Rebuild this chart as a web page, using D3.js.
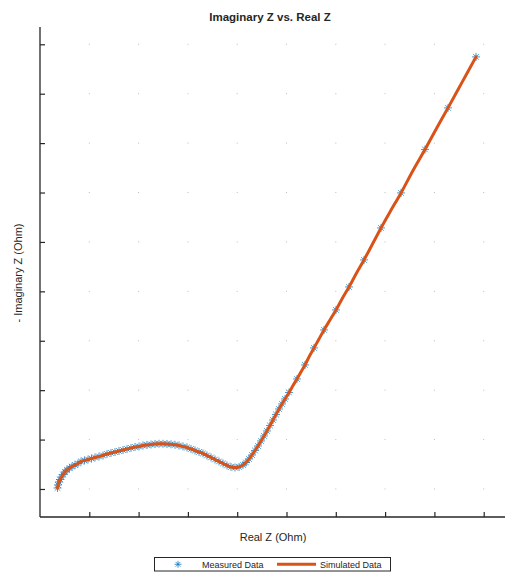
<!DOCTYPE html>
<html><head><meta charset="utf-8">
<script src="https://cdn.jsdelivr.net/npm/d3@7/dist/d3.min.js"></script>
<style>body{margin:0;background:#fff}svg{display:block}</style>
</head><body>
<script>
// Simulated data (Real Z, -Imag Z) in Ohm
const simReal = [3.55,3.65,3.85,4.06,4.36,4.67,5.07,5.48,5.98,6.49,7.10,7.71,8.32,9.03,9.74,10.45,11.16,11.97,12.78,13.59,14.40,15.21,16.02,16.84,17.65,18.46,19.27,20.08,20.89,21.70,22.52,23.33,24.14,24.95,25.76,26.57,27.38,28.19,29.01,29.82,30.63,31.44,32.25,33.06,33.87,34.69,35.50,36.31,37.12,37.93,38.74,39.55,40.37,41.18,41.78,42.39,43.00,43.61,44.22,44.83,45.44,46.04,46.65,47.26,47.87,48.48,49.09,49.70,50.51,51.32,52.13,52.94,53.75,54.56,55.58,56.59,57.61,58.82,60.04,61.26,62.68,64.10,65.72,67.34,69.17,70.99,73.23,75.66,78.09,80.53,82.76,85.60,88.44];
const simImag = [10.20,10.81,11.42,11.92,12.43,12.94,13.44,13.85,14.25,14.55,14.86,15.16,15.57,15.77,15.97,16.17,16.38,16.58,16.78,17.09,17.29,17.49,17.69,17.89,18.10,18.30,18.50,18.60,18.81,18.91,19.01,19.11,19.15,19.15,19.11,19.05,18.95,18.81,18.60,18.40,18.10,17.79,17.49,17.19,16.78,16.38,15.97,15.57,15.16,14.76,14.45,14.35,14.45,14.86,15.36,16.07,16.88,17.79,18.70,19.72,20.73,21.74,22.85,23.97,25.08,26.19,27.21,28.22,29.53,30.95,32.27,33.68,35.10,36.72,38.54,40.36,42.19,44.21,46.24,48.46,50.89,53.52,56.36,59.39,62.83,66.07,69.92,74.47,78.72,83.18,87.13,92.29,97.45];
// Measured data (Real Z, -Imag Z) in Ohm
const measReal = [3.55,3.65,3.85,4.06,4.36,4.67,5.07,5.48,5.98,6.49,7.10,7.71,8.32,9.03,9.74,10.45,11.16,11.97,12.78,13.59,14.40,15.21,16.02,16.84,17.65,18.46,19.27,20.08,20.89,21.70,22.52,23.33,24.14,24.95,25.76,26.57,27.38,28.19,29.01,29.82,30.63,31.44,32.25,33.06,33.87,34.69,35.50,36.31,37.12,37.93,38.74,39.55,40.37,41.18,41.78,42.39,43.00,43.61,44.22,44.83,45.44,46.04,46.65,47.26,47.87,48.48,49.09,49.70,50.51,52.13,53.75,55.58,57.61,60.04,62.68,65.72,69.17,73.23,78.09,82.76,88.44];
const measImag = [10.20,10.81,11.42,11.92,12.43,12.94,13.44,13.85,14.25,14.55,14.86,15.16,15.57,15.77,15.97,16.17,16.38,16.58,16.78,17.09,17.29,17.49,17.69,17.89,18.10,18.30,18.50,18.60,18.81,18.91,19.01,19.11,19.15,19.15,19.11,19.05,18.95,18.81,18.60,18.40,18.10,17.79,17.49,17.19,16.78,16.38,15.97,15.57,15.16,14.76,14.45,14.35,14.45,14.86,15.36,16.07,16.88,17.79,18.70,19.72,20.73,21.74,22.85,23.97,25.08,26.19,27.21,28.22,29.53,32.27,35.10,38.54,42.19,46.24,50.89,56.36,62.83,69.92,78.72,87.13,97.45];
const xTicks = [10,20,30,40,50,60,70,80,90];
const yTicks = [10,20,30,40,50,60,70,80,90,100];
const titleText = "Imaginary Z vs. Real Z";
const xLabel = "Real Z (Ohm)";
const yLabel = "- Imaginary Z (Ohm)";
const legendLabels = ["Measured Data","Simulated Data"];

const W = 530, H = 582;
const L = 40, R = 505, T = 27, B = 517;
const svg = d3.select("body").append("svg").attr("width", W).attr("height", H);
const font = "'Liberation Sans', Arial, sans-serif";
const x = d3.scaleLinear().domain([0, 94.32]).range([L, R]);
const y = d3.scaleLinear().domain([4.33, 103.5]).range([B, T]);

// grid dots
const gridG = svg.append("g");
xTicks.forEach(tx => yTicks.forEach(ty => {
  gridG.append("rect").attr("x", x(tx) - 0.5).attr("y", y(ty) - 0.5)
    .attr("width", 1).attr("height", 1).attr("fill", "#bdbdbd");
}));

// axes
const axColor = "#262626";
const gx = svg.append("g").attr("transform", `translate(0,${B})`)
  .call(d3.axisTop(x).tickValues(xTicks).tickSize(5).tickFormat(""));
const gy = svg.append("g").attr("transform", `translate(${L},0)`)
  .call(d3.axisRight(y).tickValues(yTicks).tickSize(5).tickFormat(""));
[gx, gy].forEach(g => {
  g.select(".domain").remove();
  g.selectAll(".tick line").attr("stroke", axColor).attr("stroke-width", 1.2);
});
svg.append("line").attr("x1", L).attr("x2", R).attr("y1", B).attr("y2", B)
  .attr("stroke", axColor).attr("stroke-width", 1.3);
svg.append("line").attr("x1", L).attr("x2", L).attr("y1", T).attr("y2", B)
  .attr("stroke", axColor).attr("stroke-width", 1.3);

// measured asterisks
const blue = "#0072BD";
function asterisk(g, cx, cy, r) {
  const p = `M${cx - r},${cy}L${cx + r},${cy}M${cx},${cy - r}L${cx},${cy + r}` +
    `M${cx - r * 0.7},${cy - r * 0.7}L${cx + r * 0.7},${cy + r * 0.7}M${cx - r * 0.7},${cy + r * 0.7}L${cx + r * 0.7},${cy - r * 0.7}`;
  g.append("path").attr("d", p).attr("stroke", blue).attr("stroke-width", 0.8)
    .attr("stroke-opacity", 0.9).attr("fill", "none");
}
const mg = svg.append("g");
measReal.forEach((v, i) => asterisk(mg, x(v), y(measImag[i]), 4));

// simulated line
const line = d3.line().x(d => x(d[0])).y(d => y(d[1])).curve(d3.curveCatmullRom);
svg.append("path").datum(simReal.map((v, i) => [v, simImag[i]]))
  .attr("d", line).attr("fill", "none").attr("stroke", "#D95319")
  .attr("stroke-width", 3).attr("stroke-linejoin", "round").attr("stroke-linecap", "round");

// title & labels
svg.append("text").attr("x", 270).attr("y", 21).attr("text-anchor", "middle")
  .attr("font-family", font).attr("font-weight", "bold").attr("font-size", 11.5)
  .attr("fill", "#262626").text(titleText);
svg.append("text").attr("x", 273).attr("y", 541).attr("text-anchor", "middle")
  .attr("font-family", font).attr("font-size", 11).attr("fill", "#262626").text(xLabel);
svg.append("text").attr("transform", "translate(22,273) rotate(-90)").attr("text-anchor", "middle")
  .attr("font-family", font).attr("font-size", 11).attr("fill", "#262626").text(yLabel);

// legend
const lg = svg.append("g");
lg.append("rect").attr("x", 154.5).attr("y", 557.5).attr("width", 236).attr("height", 13.5)
  .attr("fill", "#fff").attr("stroke", "#262626").attr("stroke-width", 1);
asterisk(lg, 178, 564.3, 3.5);
lg.append("text").attr("x", 202).attr("y", 567.5).attr("font-family", font).attr("font-size", 9)
  .attr("fill", "#262626").text(legendLabels[0]);
lg.append("line").attr("x1", 277).attr("x2", 316).attr("y1", 564.3).attr("y2", 564.3)
  .attr("stroke", "#D95319").attr("stroke-width", 3);
lg.append("text").attr("x", 320).attr("y", 567.5).attr("font-family", font).attr("font-size", 9)
  .attr("fill", "#262626").text(legendLabels[1]);
</script>
</body></html>
